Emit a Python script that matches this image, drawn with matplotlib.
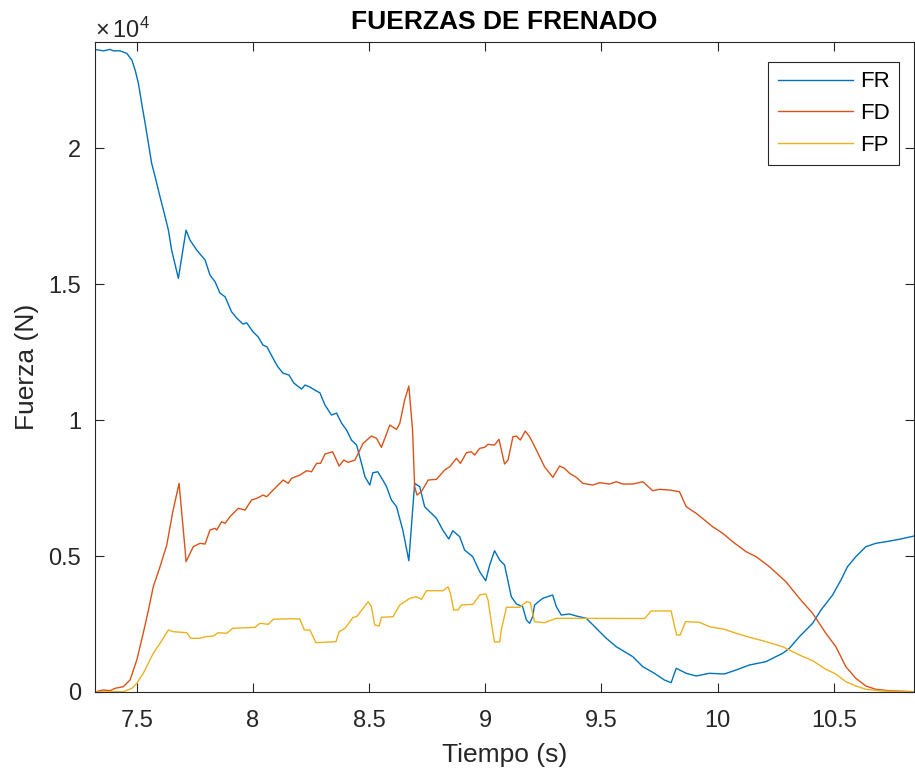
import matplotlib
matplotlib.use("Agg")
import matplotlib.pyplot as plt
from matplotlib.ticker import FuncFormatter

plt.rcParams['font.family'] = ['Liberation Sans', 'DejaVu Sans']
plt.rcParams['mathtext.fontset'] = 'custom'
plt.rcParams['mathtext.rm'] = 'Liberation Sans'

# ---- datos (tiempo en s, fuerza en N) ----
t_fr = [7.319, 7.356, 7.385, 7.399, 7.428, 7.457, 7.479, 7.493, 7.507, 7.521,
        7.536, 7.550, 7.564, 7.579, 7.600, 7.622, 7.636, 7.650, 7.679, 7.712,
        7.729, 7.758, 7.794, 7.815, 7.837, 7.858, 7.880, 7.908, 7.930, 7.957,
        7.973, 8.000, 8.022, 8.043, 8.060, 8.086, 8.107, 8.129, 8.155, 8.176,
        8.209, 8.224, 8.245, 8.271, 8.288, 8.310, 8.338, 8.360, 8.381, 8.403,
        8.424, 8.446, 8.467, 8.482, 8.503, 8.516, 8.537, 8.559, 8.575, 8.596,
        8.618, 8.645, 8.671, 8.696, 8.718, 8.739, 8.761, 8.790, 8.817, 8.843,
        8.860, 8.890, 8.911, 8.946, 8.976, 9.002, 9.019, 9.040, 9.062, 9.083,
        9.112, 9.134, 9.161, 9.177, 9.191, 9.204, 9.212, 9.247, 9.290, 9.306,
        9.327, 9.363, 9.392, 9.435, 9.485, 9.521, 9.564, 9.635, 9.678, 9.728,
        9.771, 9.800, 9.822, 9.865, 9.908, 9.965, 10.029, 10.080, 10.137, 10.208,
        10.280, 10.309, 10.352, 10.409, 10.445, 10.495, 10.531, 10.559, 10.595, 10.638,
        10.681, 10.724, 10.781, 10.846]
fr = [23626, 23574, 23626, 23574, 23574, 23479, 23232, 22865, 22376, 21641,
      20905, 20170, 19435, 18943, 18207, 17472, 16983, 16248, 15208, 16983,
      16616, 16248, 15880, 15329, 15083, 14667, 14531, 13980, 13748, 13528,
      13575, 13245, 13061, 12756, 12693, 12278, 11958, 11726, 11653, 11359,
      11138, 11285, 11212, 11076, 11002, 10550, 10183, 10256, 9888, 9631,
      9264, 9080, 8418, 7914, 7609, 8061, 8098, 7793, 7547, 7058,
      6812, 5955, 4827, 7672, 7547, 6812, 6628, 6385, 5955, 5624,
      5929, 5709, 5220, 4974, 4422, 4091, 4669, 5194, 4852, 4669,
      3503, 3235, 3136, 2647, 2525, 2768, 3198, 3444, 3566, 3136,
      2831, 2867, 2794, 2709, 2279, 1974, 1665, 1298, 930, 687,
      441, 342, 871, 687, 588, 687, 662, 809, 993, 1114,
      1423, 1606, 2033, 2525, 3014, 3566, 4117, 4606, 4974, 5341,
      5466, 5525, 5613, 5735]

t_fd = [7.319, 7.355, 7.385, 7.407, 7.442, 7.471, 7.500, 7.528, 7.550, 7.571,
        7.600, 7.629, 7.655, 7.682, 7.708, 7.712, 7.743, 7.772, 7.794, 7.815,
        7.837, 7.844, 7.865, 7.880, 7.901, 7.937, 7.966, 7.994, 8.016, 8.044,
        8.059, 8.087, 8.130, 8.152, 8.166, 8.202, 8.231, 8.252, 8.274, 8.291,
        8.310, 8.343, 8.371, 8.391, 8.410, 8.439, 8.474, 8.510, 8.532, 8.553,
        8.589, 8.618, 8.632, 8.653, 8.671, 8.687, 8.696, 8.706, 8.725, 8.754,
        8.790, 8.825, 8.847, 8.876, 8.893, 8.919, 8.940, 8.954, 8.976, 8.997,
        9.012, 9.040, 9.059, 9.083, 9.098, 9.119, 9.134, 9.151, 9.172, 9.191,
        9.220, 9.255, 9.291, 9.320, 9.341, 9.363, 9.392, 9.420, 9.463, 9.492,
        9.535, 9.564, 9.592, 9.635, 9.678, 9.721, 9.750, 9.793, 9.836, 9.865,
        9.908, 9.979, 10.022, 10.065, 10.123, 10.166, 10.223, 10.294, 10.352, 10.409,
        10.466, 10.509, 10.552, 10.595, 10.638, 10.681, 10.738, 10.846]
fd = [0, 74, 48, 136, 195, 441, 1176, 2169, 3014, 3871,
      4606, 5404, 6628, 7672, 5220, 4790, 5341, 5466, 5440, 5955,
      6018, 5955, 6260, 6201, 6444, 6753, 6690, 7058, 7120, 7242,
      7179, 7426, 7793, 7672, 7856, 7977, 8135, 8098, 8407, 8407,
      8749, 8833, 8308, 8528, 8444, 8528, 9142, 9411, 9326, 8995,
      9815, 9657, 9877, 10734, 11249, 9631, 7547, 7242, 7363, 7793,
      7819, 8161, 8282, 8591, 8407, 8797, 8833, 8712, 8958, 8995,
      9105, 9080, 9289, 8381, 8528, 9385, 9411, 9264, 9594, 9385,
      8896, 8282, 7892, 8308, 8223, 8039, 7892, 7672, 7609, 7694,
      7646, 7731, 7646, 7646, 7731, 7400, 7451, 7426, 7363, 6812,
      6569, 6076, 5834, 5525, 5157, 4974, 4606, 4055, 3444, 2893,
      2158, 1665, 930, 504, 221, 99, 48, 10]

t_fp = [7.319, 7.442, 7.479, 7.500, 7.528, 7.571, 7.600, 7.636, 7.657, 7.715,
        7.732, 7.772, 7.794, 7.829, 7.851, 7.887, 7.913, 7.973, 8.009, 8.030,
        8.066, 8.087, 8.159, 8.202, 8.221, 8.245, 8.271, 8.302, 8.357, 8.371,
        8.396, 8.431, 8.446, 8.474, 8.496, 8.510, 8.524, 8.543, 8.553, 8.603,
        8.632, 8.675, 8.704, 8.725, 8.747, 8.818, 8.840, 8.850, 8.864, 8.883,
        8.897, 8.947, 8.976, 9.002, 9.012, 9.031, 9.040, 9.062, 9.069, 9.091,
        9.148, 9.177, 9.194, 9.212, 9.255, 9.277, 9.306, 9.686, 9.714, 9.800,
        9.815, 9.824, 9.839, 9.862, 9.922, 9.965, 10.029, 10.080, 10.137, 10.194,
        10.280, 10.352, 10.409, 10.466, 10.509, 10.552, 10.595, 10.638, 10.710, 10.846]
fp = [0, 11, 136, 320, 687, 1423, 1790, 2279, 2217, 2180,
      1974, 1974, 2033, 2059, 2180, 2158, 2342, 2364, 2378, 2525,
      2489, 2672, 2694, 2683, 2279, 2279, 1812, 1827, 1849, 2217,
      2342, 2746, 2768, 3077, 3319, 3136, 2463, 2426, 2746, 2768,
      3198, 3444, 3503, 3408, 3724, 3724, 3871, 3628, 3014, 3014,
      3198, 3224, 3566, 3602, 3382, 2279, 1838, 1838, 2279, 3114,
      3114, 3319, 3283, 2584, 2547, 2621, 2709, 2702, 2978, 2978,
      2400, 2095, 2095, 2584, 2562, 2400, 2305, 2158, 2011, 1886,
      1665, 1360, 1151, 834, 662, 379, 221, 99, 37, 0]

x_ticks = [7.5, 8, 8.5, 9, 9.5, 10, 10.5]
y_ticks = [0, 5000, 10000, 15000, 20000]

fig = plt.figure(figsize=(9.15, 7.73), dpi=100)
ax = fig.add_axes([0.1038, 0.1048, 0.895, 0.8409])

ax.plot(t_fr, fr, color='#0072BD', lw=1.0, label='FR')
ax.plot(t_fd, fd, color='#D95319', lw=1.0, label='FD')
ax.plot(t_fp, fp, color='#EDB120', lw=1.0, label='FP')

ax.set_xlim(7.32, 10.845)
ax.set_ylim(0, 23900)
ax.set_xticks(x_ticks)
ax.set_yticks(y_ticks)
ax.xaxis.set_major_formatter(FuncFormatter(lambda v, p: '%g' % v))
ax.yaxis.set_major_formatter(FuncFormatter(lambda v, p: '%g' % (v / 1e4)))

ax.tick_params(direction='in', length=6.5, width=0.8, colors='#262626',
               labelsize=17, top=True, right=True)
ax.tick_params(axis='x', pad=13)
ax.tick_params(axis='y', pad=10)
for s in ax.spines.values():
    s.set_color('#262626')
    s.set_linewidth(0.8)

ax.text(0.0, 0.998, r'$\times\,\mathregular{10^{4}}$', transform=ax.transAxes,
        ha='left', va='bottom', fontsize=17, color='#262626')

ax.set_title('FUERZAS DE FRENADO', fontsize=19, fontweight='bold', pad=9)
ax.set_xlabel('Tiempo (s)', fontsize=19, color='#262626', labelpad=8)
ax.set_ylabel('Fuerza (N)', fontsize=19, color='#262626', labelpad=7)

leg = ax.legend(loc='upper right', bbox_to_anchor=(0.9817, 0.9692), borderaxespad=0,
                fontsize=16, fancybox=False, framealpha=1, edgecolor='#262626',
                handlelength=3.4, handletextpad=0.3, labelspacing=0.48, borderpad=0.42)
leg.get_frame().set_linewidth(0.8)

fig.savefig('out.png', dpi=100)
